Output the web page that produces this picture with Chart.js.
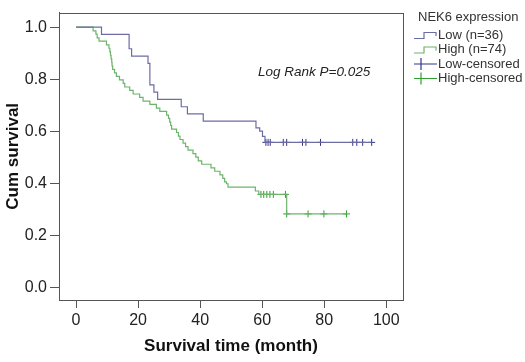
<!DOCTYPE html>
<html>
<head>
<meta charset="utf-8">
<script src="https://cdn.jsdelivr.net/npm/chart.js@4.4.1/dist/chart.umd.min.js"></script>
<style>
  html, body { margin: 0; padding: 0; background: #fff; }
  #wrap { width: 525px; height: 362px; position: relative; }
</style>
</head>
<body>
<div id="wrap"><canvas id="km"></canvas></div>
<script>
// Kaplan-Meier steps (months, cumulative survival)
const lowTime = [0, 8.2, 17.1, 17.9, 23.2, 23.8, 25.1, 26.3, 33.9, 35.9, 41.0, 58.0, 59.2, 60.1, 60.9, 95.3];
const lowSurv = [1, 0.972, 0.917, 0.889, 0.861, 0.778, 0.750, 0.722, 0.694, 0.667, 0.639, 0.613, 0.600, 0.580, 0.557, 0.557];
const lowCensTime = [61.2, 61.9, 62.6, 66.8, 67.9, 73.0, 74.1, 78.8, 89.2, 90.5, 92.4, 95.3];
const lowCensSurv = [0.557, 0.557, 0.557, 0.557, 0.557, 0.557, 0.557, 0.557, 0.557, 0.557, 0.557, 0.557];

const highTime = [0, 5.5, 6.4, 6.8, 7.4, 9.8, 10.6, 10.9, 11.1, 11.3, 11.5, 11.6, 11.8, 12.4, 13.0, 14.0, 15.2, 15.7,
  17.3, 18.4, 20.5, 21.6, 23.8, 25.9, 27.0, 29.2, 29.8, 30.2, 30.5, 30.8, 32.4, 33.0, 33.5, 34.5, 35.3, 36.1,
  37.7, 38.6, 39.4, 40.5, 43.5, 44.7, 46.4, 47.3, 47.9, 48.5, 49.0, 57.8, 58.9, 67.9, 87.2];
const highSurv = [1, 0.986, 0.973, 0.959, 0.946, 0.932, 0.919, 0.905, 0.892, 0.878, 0.865, 0.851, 0.838, 0.824, 0.811, 0.797, 0.784, 0.770,
  0.757, 0.743, 0.730, 0.716, 0.703, 0.689, 0.676, 0.662, 0.649, 0.635, 0.622, 0.608, 0.595, 0.581, 0.568, 0.554, 0.541, 0.527,
  0.514, 0.500, 0.486, 0.473, 0.459, 0.446, 0.432, 0.419, 0.405, 0.398, 0.385, 0.370, 0.357, 0.282, 0.282];
const highCensTime = [59.6, 60.5, 61.5, 62.5, 63.6, 67.5, 67.9, 74.8, 79.9, 87.2];
const highCensSurv = [0.357, 0.357, 0.357, 0.357, 0.357, 0.357, 0.282, 0.282, 0.282, 0.282];

const xTicks = [0, 20, 40, 60, 80, 100];
const yTicks = [0, 0.2, 0.4, 0.6, 0.8, 1.0];

const legendTitle = 'NEK6 expression';
const legendLabels = ['Low (n=36)', 'High (n=74)', 'Low-censored', 'High-censored'];
const noteText = 'Log Rank P=0.025';

const FONT = '"Liberation Sans", Arial, sans-serif';
const lowColor = '#6c6ca4';
const lowCensColor = '#34348a';
const highColor = '#6cb46c';
const highCensColor = '#2f9f2f';
const frameColor = '#555';

function pts(xs, ys) {
  return xs.map((x, i) => ({ x: x, y: ys[i] }));
}

// box around the plot + legend + log rank note
const extras = {
  id: 'extras',
  afterDraw(chart) {
    const ctx = chart.ctx;
    const a = chart.chartArea;
    ctx.save();
    ctx.strokeStyle = frameColor;
    ctx.lineWidth = 1;
    ctx.strokeRect(Math.round(a.left) + 0.5, Math.round(a.top) + 0.5,
      Math.round(a.right - a.left), Math.round(a.bottom - a.top));

    ctx.fillStyle = '#222';
    ctx.font = 'italic 13.5px ' + FONT;
    ctx.textBaseline = 'middle';
    ctx.textAlign = 'left';
    ctx.fillText(noteText, 258, 72);

    // legend
    ctx.font = '13px ' + FONT;
    ctx.fillStyle = '#333';
    ctx.fillText(legendTitle, 418, 17);
    const colors = [lowColor, highColor, lowCensColor, highCensColor];
    const rows = [35, 49.5, 64, 78.5];
    rows.forEach((cy, i) => {
      ctx.strokeStyle = colors[i];
      ctx.lineWidth = 1.2;
      ctx.beginPath();
      if (i < 2) {
        ctx.moveTo(414, cy + 3.5);
        ctx.lineTo(424, cy + 3.5);
        ctx.lineTo(424, cy - 2.5);
        ctx.lineTo(436, cy - 2.5);
        ctx.lineTo(436, cy + 1);
      } else {
        ctx.moveTo(414, cy);
        ctx.lineTo(437, cy);
        ctx.moveTo(421, cy - 6);
        ctx.lineTo(421, cy + 6);
      }
      ctx.stroke();
      ctx.fillStyle = '#333';
      ctx.fillText(legendLabels[i], 438, cy);
    });
    ctx.restore();
  }
};

const ctx = document.getElementById('km').getContext('2d');
const chart = new Chart(ctx, {
  type: 'line',
  data: {
    datasets: [
      {
        label: legendLabels[0],
        data: pts(lowTime, lowSurv),
        borderColor: lowColor,
        borderWidth: 1.2,
        stepped: true,
        pointRadius: 0,
        fill: false
      },
      {
        label: legendLabels[1],
        data: pts(highTime, highSurv),
        borderColor: highColor,
        borderWidth: 1.2,
        stepped: true,
        pointRadius: 0,
        fill: false
      },
      {
        label: legendLabels[2],
        data: pts(lowCensTime, lowCensSurv),
        showLine: false,
        pointStyle: 'cross',
        pointRadius: 3.5,
        borderColor: lowCensColor,
        borderWidth: 1
      },
      {
        label: legendLabels[3],
        data: pts(highCensTime, highCensSurv),
        showLine: false,
        pointStyle: 'cross',
        pointRadius: 3.5,
        borderColor: highCensColor,
        borderWidth: 1
      }
    ]
  },
  options: {
    responsive: true,
    maintainAspectRatio: false,
    animation: false,
    layout: { padding: { top: 5, right: 122, left: 0, bottom: 0 } },
    plugins: {
      legend: { display: false },
      tooltip: { enabled: false }
    },
    scales: {
      x: {
        type: 'linear',
        min: -5.5,
        max: 105.4,
        afterBuildTicks: s => { s.ticks = xTicks.map(v => ({ value: v })); },
        afterFit: s => { s.height = 62; },
        ticks: {
          font: { family: FONT, size: 16 },
          color: '#222',
          padding: 3,
          maxRotation: 0,
          autoSkip: false
        },
        grid: { drawOnChartArea: false, drawTicks: true, tickLength: 8, color: frameColor },
        border: { color: frameColor, width: 1 },
        title: {
          display: true,
          text: 'Survival time (month)',
          font: { family: FONT, size: 17, weight: 'bold' },
          color: '#111',
          padding: { top: 0, bottom: 5 }
        }
      },
      y: {
        type: 'linear',
        min: -0.049,
        max: 1.056,
        afterBuildTicks: s => { s.ticks = yTicks.map(v => ({ value: v })); },
        afterFit: s => { s.width = 59; },
        ticks: {
          font: { family: FONT, size: 16 },
          color: '#222',
          padding: 3,
          callback: v => v.toFixed(1)
        },
        grid: { drawOnChartArea: false, drawTicks: true, tickLength: 9, color: frameColor },
        border: { color: frameColor, width: 1 },
        title: {
          display: true,
          text: 'Cum survival',
          font: { family: FONT, size: 17, weight: 'bold' },
          color: '#111',
          padding: { top: 3, bottom: 0 }
        }
      }
    }
  },
  plugins: [extras]
});
</script>
</body>
</html>
